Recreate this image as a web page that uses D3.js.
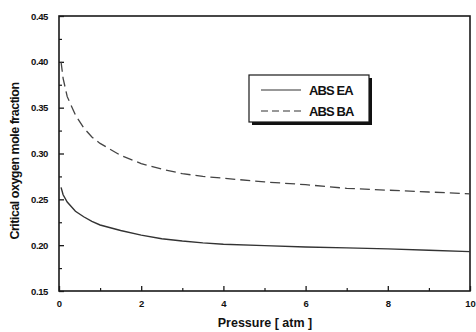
<!DOCTYPE html>
<html><head><meta charset="utf-8">
<script src="https://cdn.jsdelivr.net/npm/d3@7"></script>
<style>body{margin:0;background:#fff}svg{display:block}text{font-family:"Liberation Sans",Arial,sans-serif;fill:#111}</style>
</head><body>
<script>
const pressure = [0.05,0.1,0.2,0.4,0.6,0.8,1.0,1.5,2,2.5,3,3.5,4,5,6,7,8,9,10];
const absEA = [0.263,0.255,0.247,0.237,0.231,0.226,0.222,0.216,0.211,0.207,0.2045,0.2025,0.201,0.1995,0.198,0.197,0.196,0.1945,0.193];
const absBA = [0.400,0.382,0.362,0.342,0.328,0.318,0.311,0.298,0.289,0.283,0.278,0.275,0.273,0.269,0.266,0.262,0.26,0.258,0.256];
const seriesNames = ["ABS EA","ABS BA"];
const xTicks = [0,2,4,6,8,10];
const yTicks = [0.15,0.20,0.25,0.30,0.35,0.40,0.45];

const W=476,H=332, L=59,R=470,T=16,B=291;
const svg=d3.select("body").append("svg").attr("width",W).attr("height",H);
const x=d3.scaleLinear().domain([0,10]).range([L,R]);
const y=d3.scaleLinear().domain([0.15,0.45]).range([B,T]);
const col="#1a1a1a";

// frame
svg.append("rect").attr("x",L).attr("y",T).attr("width",R-L).attr("height",B-T)
  .attr("fill","none").attr("stroke",col).attr("stroke-width",1.6);

// x axis ticks
const gx=svg.append("g").attr("transform",`translate(0,${B})`)
  .call(d3.axisBottom(x).tickValues(xTicks).tickSize(-5).tickPadding(9).tickFormat(d3.format("d")));
gx.select(".domain").remove();
gx.selectAll("line").attr("stroke",col).attr("stroke-width",1.3);
gx.selectAll("text").style("font-size","9.5px").style("font-weight","bold").attr("fill","#111");
svg.append("g").attr("transform",`translate(0,${B})`)
  .call(d3.axisBottom(x).tickValues([1,3,5,7,9]).tickSize(-3).tickFormat(""))
  .call(g=>{g.select(".domain").remove();g.selectAll("line").attr("stroke",col).attr("stroke-width",1.2);});

// y axis ticks
const gy=svg.append("g").attr("transform",`translate(${L},0)`)
  .call(d3.axisLeft(y).tickValues(yTicks).tickSize(-5).tickPadding(11).tickFormat(d3.format(".2f")));
gy.select(".domain").remove();
gy.selectAll("line").attr("stroke",col).attr("stroke-width",1.3);
gy.selectAll("text").style("font-size","9.5px").style("font-weight","bold").style("letter-spacing","-0.4px").attr("fill","#111");
svg.append("g").attr("transform",`translate(${L},0)`)
  .call(d3.axisLeft(y).tickValues([0.175,0.225,0.275,0.325,0.375,0.425]).tickSize(-3).tickFormat(""))
  .call(g=>{g.select(".domain").remove();g.selectAll("line").attr("stroke",col).attr("stroke-width",1.2);});

// lines
const line=d3.line().x((d,i)=>x(pressure[i])).y(d=>y(d));
svg.append("path").datum(absEA).attr("d",line).attr("fill","none").attr("stroke","#333").attr("stroke-width",1.4);
svg.append("path").datum(absBA).attr("d",line).attr("fill","none").attr("stroke","#444").attr("stroke-width",1.3).attr("stroke-dasharray","10,5");

// legend
const lg=svg.append("g");
lg.append("rect").attr("x",252).attr("y",78).attr("width",120).attr("height",47).attr("fill","#111");
lg.append("rect").attr("x",249).attr("y",75).attr("width",120).attr("height",47).attr("fill","#fff").attr("stroke",col).attr("stroke-width",1.2);
const dashes=[null,"7,4"];
[90,111].forEach((yy,i)=>{
  lg.append("line").attr("x1",261).attr("x2",301).attr("y1",yy).attr("y2",yy)
    .attr("stroke","#333").attr("stroke-width",1.2).attr("stroke-dasharray",dashes[i]);
  lg.append("text").attr("x",309).attr("y",yy+4.5).text(seriesNames[i])
    .style("font-size","13px").style("font-weight","bold").style("letter-spacing","-0.9px");
});

// axis titles
svg.append("text").attr("x",(213+317)/2).attr("y",327).attr("text-anchor","middle")
  .style("font-size","12.5px").style("font-weight","bold").text("Pressure  [ atm ]");
svg.append("text").attr("transform","translate(19,161) rotate(-90)").attr("text-anchor","middle")
  .style("font-size","12.5px").style("font-weight","bold").style("letter-spacing","-0.5px").text("Critical oxygen mole fraction");
</script>
</body></html>
